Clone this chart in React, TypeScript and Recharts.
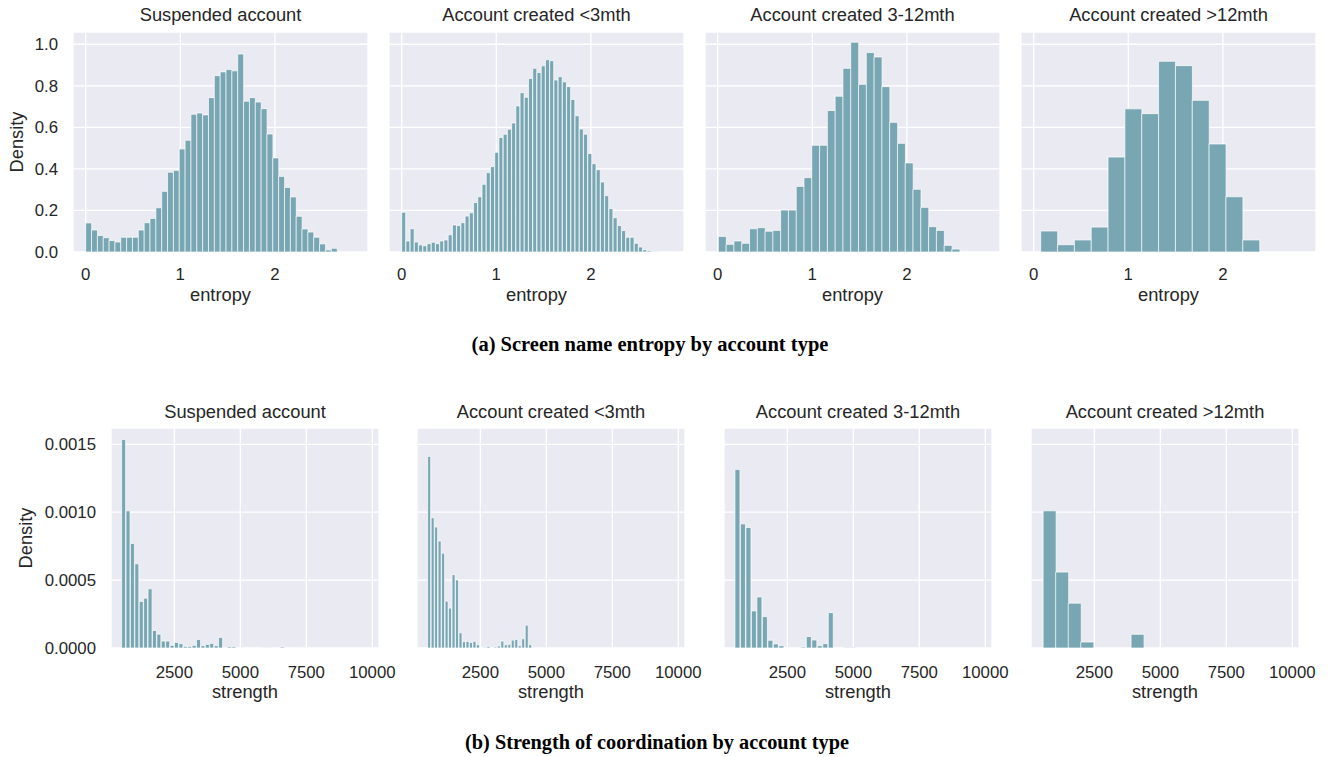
import React from 'react';
import { BarChart, Bar, XAxis, YAxis, CartesianGrid } from 'recharts';

// ---------- data ----------
const panelTitles = ['Suspended account', 'Account created <3mth', 'Account created 3-12mth', 'Account created >12mth'];

// (a) screen name entropy histograms (density per bin)
const entropyBinStarts = [0, 0, 0.007, 0.074];
const entropyBinWidths = [0.0618, 0.0447, 0.0823, 0.178];
const entropySuspended = [0.14, 0.106, 0.079, 0.069, 0.055, 0.048, 0.071, 0.071, 0.071, 0.106, 0.141, 0.162, 0.213, 0.292, 0.384, 0.393, 0.496, 0.538, 0.663, 0.669, 0.66, 0.743, 0.849, 0.867, 0.878, 0.872, 0.953, 0.726, 0.743, 0.722, 0.69, 0.568, 0.453, 0.364, 0.311, 0.265, 0.172, 0.111, 0.096, 0.071, 0.039, 0.01, 0.018];
const entropyUnder3 = [0.191, 0.053, 0.112, 0.048, 0.034, 0.03, 0.04, 0.047, 0.04, 0.053, 0.058, 0.083, 0.13, 0.127, 0.141, 0.173, 0.189, 0.238, 0.266, 0.326, 0.382, 0.411, 0.48, 0.551, 0.567, 0.591, 0.621, 0.703, 0.767, 0.745, 0.835, 0.884, 0.864, 0.896, 0.925, 0.921, 0.828, 0.844, 0.819, 0.796, 0.734, 0.656, 0.592, 0.567, 0.474, 0.425, 0.396, 0.337, 0.271, 0.209, 0.165, 0.127, 0.103, 0.071, 0.071, 0.042, 0.024, 0.011, 0.006, 0.003, 0.002];
const entropy3to12 = [0.075, 0.037, 0.053, 0.042, 0.112, 0.117, 0.1, 0.104, 0.202, 0.202, 0.316, 0.358, 0.514, 0.514, 0.681, 0.75, 0.884, 1.01, 0.807, 0.96, 0.939, 0.796, 0.624, 0.523, 0.429, 0.302, 0.215, 0.122, 0.104, 0.032, 0.014];
const entropyOver12 = [0.101, 0.035, 0.058, 0.12, 0.457, 0.689, 0.666, 0.918, 0.897, 0.73, 0.52, 0.266, 0.058];
const entropyTicks = [0, 1, 2];
const entropyDensityTicks = [0, 0.2, 0.4, 0.6, 0.8, 1.0];

// (b) coordination strength histograms
const strengthBinStarts = [502, 504, 515, 559];
const strengthBinWidths = [167, 132, 208, 476];
const strengthSuspended = [0.001535, 0.00101, 0.000769, 0.00062, 0.000343, 0.000367, 0.000436, 0.000129, 0.000102, 0.000051, 0.000051, 0.0000195, 0.000041, 0.000032, 0.000012, 0.000012, 0.0000195, 0.000063, 0.000017, 0.000027, 0.000034, 0.000017, 0.000078, 0, 0.00001, 0.00001, 0, 0, 0, 0, 0, 0, 0.000004, 0.000004, 0, 0, 0.000008, 0, 0, 0, 0, 0.000003];
const strengthUnder3 = [0.001411, 0.000959, 0.000891, 0.000788, 0.000698, 0.000345, 0.000294, 0.00054, 0.000501, 0.000112, 0.000046, 0.000049, 0.000041, 0.000049, 0.000024, 0, 0.000005, 0.000012, 0, 0.000007, 0.000015, 0.000051, 0.000024, 0.000027, 0.000058, 0.000063, 0.000017, 0.000068, 0.000168, 0.000024, 0.000002];
const strength3to12 = [0.001314, 0.000914, 0.000887, 0.000273, 0.000376, 0.000231, 0.000057, 0.00003, 0.000017, 0, 0, 0, 0.000007, 0.000084, 0.000059, 0.000017, 0.000032, 0.00026, 0, 0, 0.000005, 0.000005];
const strengthOver12 = [0.00101, 0.000559, 0.00033, 0.000044, 0, 0, 0, 0.000101];
const strengthTicks = [2500, 5000, 7500, 10000];
const strengthDensityTicks = [0, 0.0005, 0.001, 0.0015];

const captionA = '(a) Screen name entropy by account type';
const captionB = '(b) Strength of coordination by account type';

// ---------- style ----------
const FONT = '"Liberation Sans", Arial, Helvetica, sans-serif';
const SERIF = '"Liberation Serif", "Times New Roman", serif';
const TEXT = '#262626';
const BAR = '#79a6b3';
const BG = '#eaeaf2';
const TICK_FS = 16.8;
const LABEL_FS = 18.3;
const RIGHT_PAD = 28;

const toBins = (values: number[], start: number, width: number) =>
  values.map((y, i) => ({ x: start + (i + 0.5) * width, y }));

type PanelProps = {
  plotLeft: number;
  plotTop: number;
  plotW: number;
  plotH: number;
  yAxisW: number;
  data: { x: number; y: number }[];
  xDomain: [number, number];
  xTicks: number[];
  yDomain: [number, number];
  yTicks: number[];
  showY: boolean;
  yFmt: (v: number) => string;
  xTickMargin: number;
};

function Panel(p: PanelProps) {
  const bottomH = 44;
  const width = p.yAxisW + p.plotW + RIGHT_PAD;
  const height = p.plotH + bottomH;
  return (
    <div style={{ position: 'absolute', left: p.plotLeft - p.yAxisW, top: p.plotTop, width, height }}>
      <BarChart
        width={width}
        height={height}
        data={p.data}
        margin={{ top: 0, right: RIGHT_PAD, bottom: 0, left: 0 }}
        barCategoryGap={0}
        barGap={0}
      >
        <CartesianGrid fill={BG} fillOpacity={1} stroke="#ffffff" strokeWidth={1.3} />
        <XAxis
          type="number"
          dataKey="x"
          domain={p.xDomain}
          allowDataOverflow
          ticks={p.xTicks}
          interval={0}
          tickLine={false}
          axisLine={false}
          tickSize={0}
          tickMargin={p.xTickMargin}
          height={bottomH}
          tick={{ fill: TEXT, fontSize: TICK_FS, fontFamily: FONT }}
        />
        <YAxis
          type="number"
          domain={p.yDomain}
          allowDataOverflow
          ticks={p.yTicks}
          interval={0}
          hide={!p.showY}
          width={p.showY ? p.yAxisW : 0}
          tickLine={false}
          axisLine={false}
          tickSize={0}
          tickMargin={15}
          tickFormatter={p.yFmt}
          tick={{ fill: TEXT, fontSize: TICK_FS, fontFamily: FONT }}
        />
        <Bar dataKey="y" fill={BAR} stroke="#ffffff" strokeWidth={0.7} isAnimationActive={false} />
      </BarChart>
    </div>
  );
}

const topLefts = [73, 389, 705, 1021];
const topW = 295;
const topTop = 32;
const botLefts = [111, 417, 724, 1031];
const botW = 268;
const botTop = 428;
const plotH = 220;

export default function App() {
  const entropySets = [entropySuspended, entropyUnder3, entropy3to12, entropyOver12];
  const strengthSets = [strengthSuspended, strengthUnder3, strength3to12, strengthOver12];
  return (
    <div style={{ position: 'absolute', left: 0, top: 0, width: 1328, height: 757, background: '#ffffff', overflow: 'hidden' }}>
      {entropySets.map((vals, i) => (
        <Panel
          key={'e' + i}
          plotLeft={topLefts[i]}
          plotTop={topTop}
          plotW={topW}
          plotH={plotH}
          yAxisW={i === 0 ? topLefts[0] : 0}
          data={toBins(vals, entropyBinStarts[i], entropyBinWidths[i])}
          xDomain={[-0.134, 2.984]}
          xTicks={entropyTicks}
          yDomain={[0, 1.059]}
          yTicks={entropyDensityTicks}
          showY={i === 0}
          yFmt={(v: number) => v.toFixed(1)}
          xTickMargin={16}
        />
      ))}
      {strengthSets.map((vals, i) => (
        <Panel
          key={'s' + i}
          plotLeft={botLefts[i]}
          plotTop={botTop}
          plotW={botW}
          plotH={plotH}
          yAxisW={i === 0 ? botLefts[0] : 0}
          data={toBins(vals, strengthBinStarts[i], strengthBinWidths[i])}
          xDomain={[100, 10254]}
          xTicks={strengthTicks}
          yDomain={[0, 0.00162]}
          yTicks={strengthDensityTicks}
          showY={i === 0}
          yFmt={(v: number) => v.toFixed(4)}
          xTickMargin={18}
        />
      ))}
      <svg width={1328} height={757} style={{ position: 'absolute', left: 0, top: 0, pointerEvents: 'none' }}>
        {panelTitles.map((t, i) => (
          <text key={'tt' + i} x={topLefts[i] + topW / 2} y={21} textAnchor="middle" fontFamily={FONT} fontSize={LABEL_FS} fill={TEXT}>{t}</text>
        ))}
        {panelTitles.map((t, i) => (
          <text key={'bt' + i} x={botLefts[i] + botW / 2} y={418} textAnchor="middle" fontFamily={FONT} fontSize={LABEL_FS} fill={TEXT}>{t}</text>
        ))}
        {topLefts.map((l, i) => (
          <text key={'ex' + i} x={l + topW / 2} y={301} textAnchor="middle" fontFamily={FONT} fontSize={LABEL_FS} fill={TEXT}>entropy</text>
        ))}
        {botLefts.map((l, i) => (
          <text key={'sx' + i} x={l + botW / 2} y={698} textAnchor="middle" fontFamily={FONT} fontSize={LABEL_FS} fill={TEXT}>strength</text>
        ))}
        <text transform={`translate(17,${topTop + plotH / 2}) rotate(-90)`} textAnchor="middle" dy="0.35em" fontFamily={FONT} fontSize={LABEL_FS} fill={TEXT}>Density</text>
        <text transform={`translate(25.5,${botTop + plotH / 2}) rotate(-90)`} textAnchor="middle" dy="0.35em" fontFamily={FONT} fontSize={LABEL_FS} fill={TEXT}>Density</text>
        <text x={650} y={351} textAnchor="middle" fontFamily={SERIF} fontWeight="bold" fontSize={20.5} fill="#000000">{captionA}</text>
        <text x={657} y={749} textAnchor="middle" fontFamily={SERIF} fontWeight="bold" fontSize={20.3} fill="#000000">{captionB}</text>
      </svg>
    </div>
  );
}
